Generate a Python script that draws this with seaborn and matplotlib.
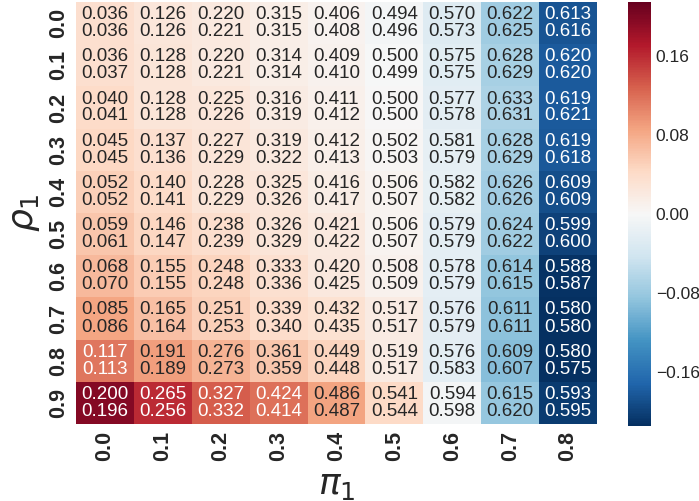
import numpy as np
import pandas as pd
import seaborn as sns
import matplotlib
matplotlib.use("Agg")
import matplotlib.pyplot as plt
from matplotlib.ticker import MultipleLocator

rho_labels = ["0.0", "0.1", "0.2", "0.3", "0.4", "0.5", "0.6", "0.7", "0.8", "0.9"]
pi_labels = ["0.0", "0.1", "0.2", "0.3", "0.4", "0.5", "0.6", "0.7", "0.8"]
pi_values = [0.0, 0.1, 0.2, 0.3, 0.4, 0.5, 0.6, 0.7, 0.8]

# first estimate in each cell (top line)
est_a = [
    [0.036, 0.126, 0.220, 0.315, 0.406, 0.494, 0.570, 0.622, 0.613],
    [0.036, 0.128, 0.220, 0.314, 0.409, 0.500, 0.575, 0.628, 0.620],
    [0.040, 0.128, 0.225, 0.316, 0.411, 0.500, 0.577, 0.633, 0.619],
    [0.045, 0.137, 0.227, 0.319, 0.412, 0.502, 0.581, 0.628, 0.619],
    [0.052, 0.140, 0.228, 0.325, 0.416, 0.506, 0.582, 0.626, 0.609],
    [0.059, 0.146, 0.238, 0.326, 0.421, 0.506, 0.579, 0.624, 0.599],
    [0.068, 0.155, 0.248, 0.333, 0.420, 0.508, 0.578, 0.614, 0.588],
    [0.085, 0.165, 0.251, 0.339, 0.432, 0.517, 0.576, 0.611, 0.580],
    [0.117, 0.191, 0.276, 0.361, 0.449, 0.519, 0.576, 0.609, 0.580],
    [0.200, 0.265, 0.327, 0.424, 0.486, 0.541, 0.594, 0.615, 0.593],
]
# second estimate in each cell (bottom line)
est_b = [
    [0.036, 0.126, 0.221, 0.315, 0.408, 0.496, 0.573, 0.625, 0.616],
    [0.037, 0.128, 0.221, 0.314, 0.410, 0.499, 0.575, 0.629, 0.620],
    [0.041, 0.128, 0.226, 0.319, 0.412, 0.500, 0.578, 0.631, 0.621],
    [0.045, 0.136, 0.229, 0.322, 0.413, 0.503, 0.579, 0.629, 0.618],
    [0.052, 0.141, 0.229, 0.326, 0.417, 0.507, 0.582, 0.626, 0.609],
    [0.061, 0.147, 0.239, 0.329, 0.422, 0.507, 0.579, 0.622, 0.600],
    [0.070, 0.155, 0.248, 0.336, 0.425, 0.509, 0.579, 0.615, 0.587],
    [0.086, 0.164, 0.253, 0.340, 0.435, 0.517, 0.579, 0.611, 0.580],
    [0.113, 0.189, 0.273, 0.359, 0.448, 0.517, 0.583, 0.607, 0.575],
    [0.196, 0.256, 0.332, 0.414, 0.487, 0.544, 0.598, 0.620, 0.595],
]

A = np.array(est_a)
B = np.array(est_b)
bias = (A + B) / 2 - np.array(pi_values)[None, :]
df = pd.DataFrame(bias, index=rho_labels, columns=pi_labels)
annot = np.array([[f"{A[i, j]:.3f}\n{B[i, j]:.3f}" for j in range(A.shape[1])]
                  for i in range(A.shape[0])])

sns.set_theme(style="white")
plt.rcParams["font.family"] = ["Liberation Sans", "DejaVu Sans"]
plt.rcParams["mathtext.fontset"] = "dejavusans"

fig = plt.figure(figsize=(6.99, 5.01), dpi=100)
W, H = 699, 501
ax = fig.add_axes([76 / W, (H - 424) / H, 521 / W, 422 / H])
cax = fig.add_axes([628 / W, (H - 426) / H, 23 / W, 424 / H])

sns.heatmap(df, ax=ax, cbar_ax=cax, cmap="RdBu_r", center=0,
            vmin=-0.215, vmax=0.215, annot=annot, fmt="",
            annot_kws={"fontsize": 13.5, "linespacing": 1.0})

ax.set_xticklabels(pi_labels, rotation=90, fontsize=15.5, fontweight="bold")
ax.set_yticklabels(rho_labels, rotation=90, fontsize=15.5, fontweight="bold",
                   va="center")
ax.tick_params(axis="both", length=0, pad=5)
ax.set_xlabel(r"$\pi_1$", fontsize=26, labelpad=4)
ax.set_ylabel(r"$\rho_1$", fontsize=26, labelpad=4)

cax.yaxis.set_major_locator(MultipleLocator(0.08))
cax.tick_params(labelsize=12.5, length=0)

fig.savefig("out.png", dpi=100)
